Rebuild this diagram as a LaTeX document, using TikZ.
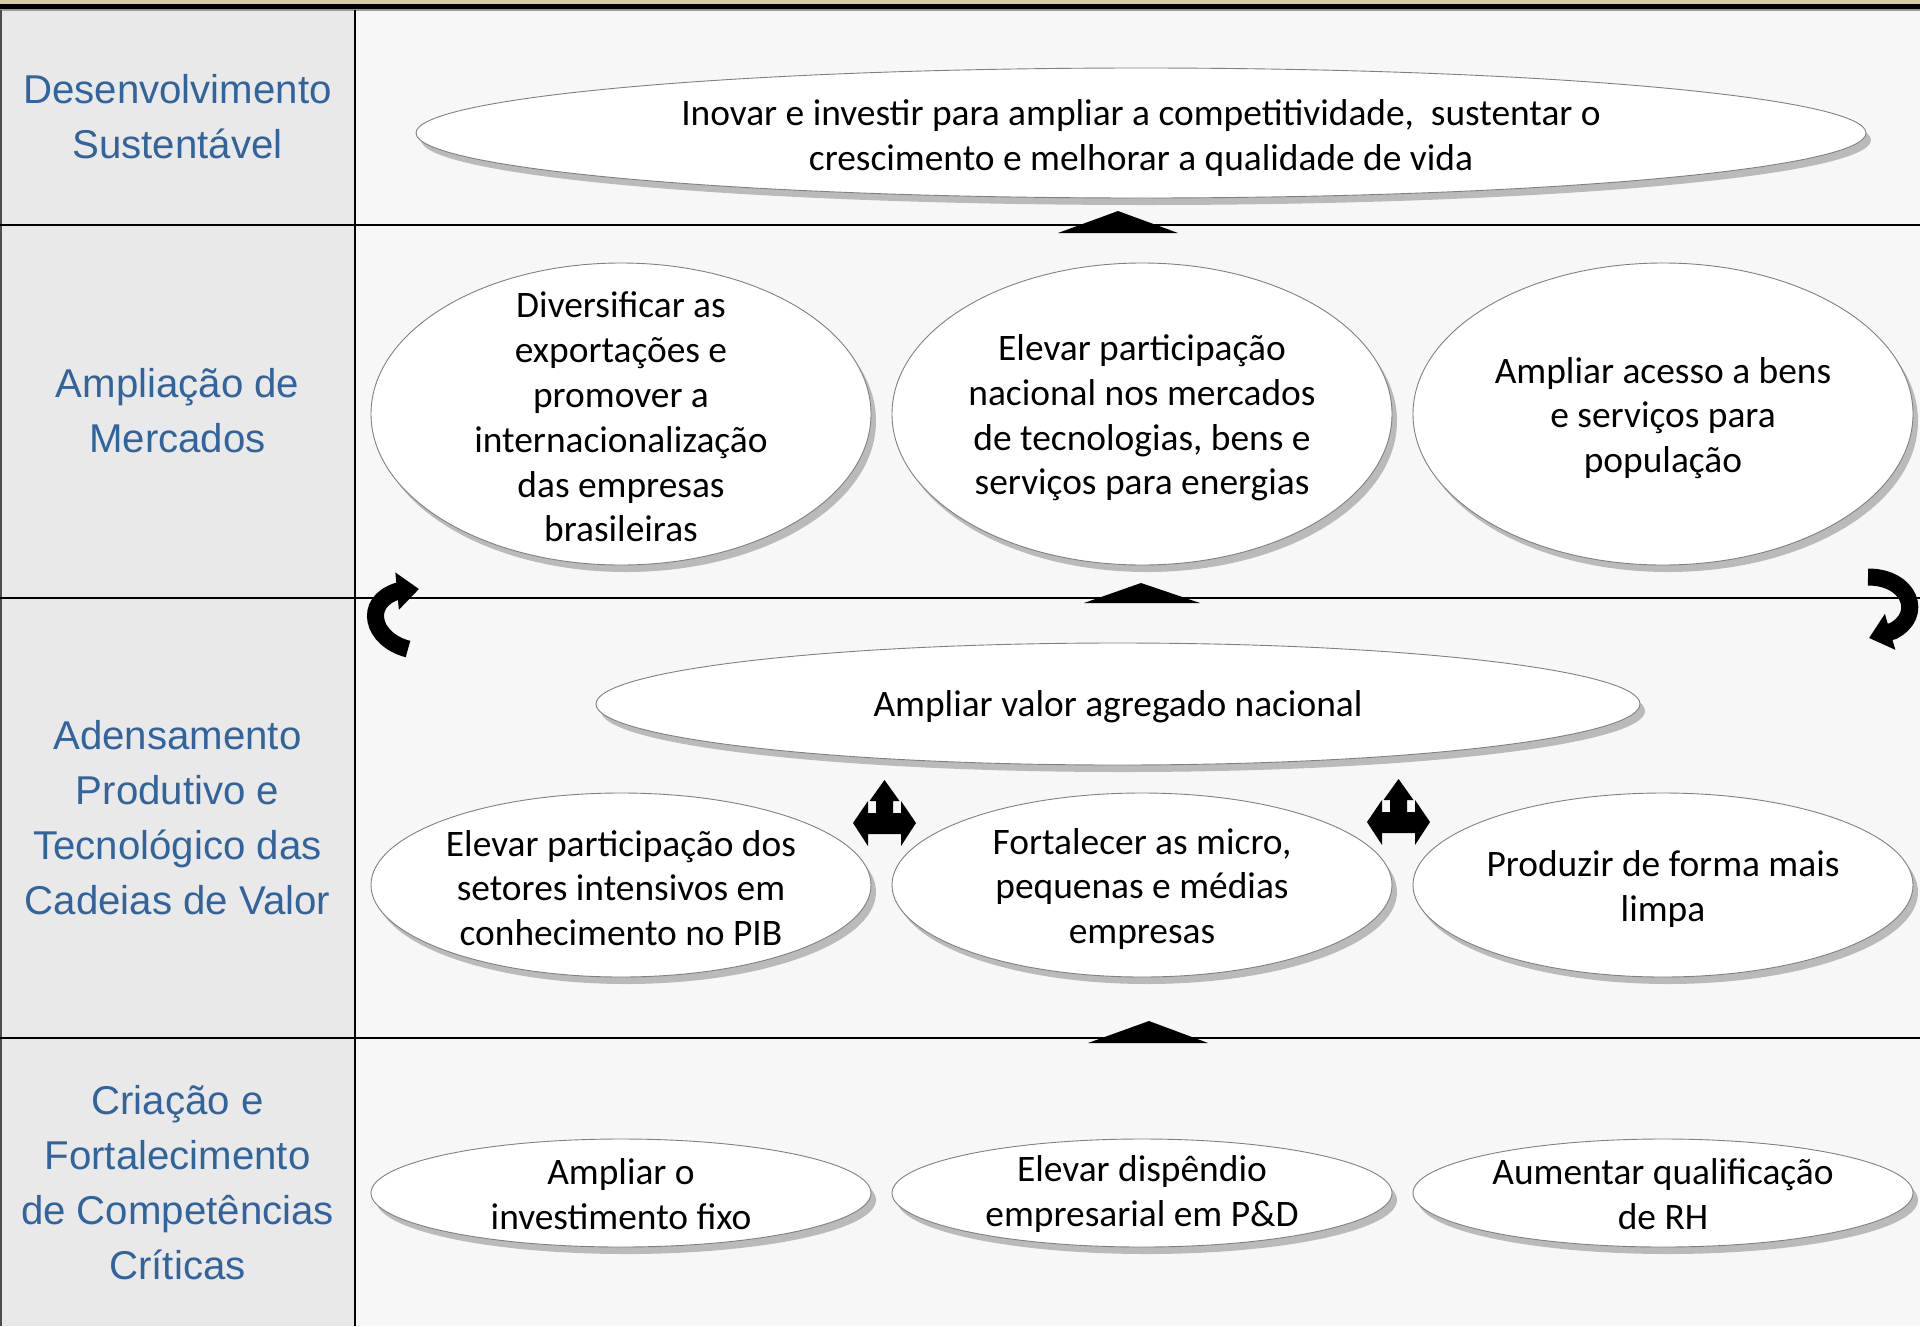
\documentclass[tikz,border=0pt]{standalone}
\usepackage{fontspec}
\setmainfont{Carlito}
\newfontfamily\labfont{Liberation Sans}
\usetikzlibrary{shapes.geometric,shadows,arrows.meta}
\definecolor{labblue}{RGB}{49,99,156}
\definecolor{leftbg}{RGB}{233,233,233}
\definecolor{mainbg}{RGB}{247,247,247}
\definecolor{stripc}{RGB}{214,204,160}
\begin{document}
\begin{tikzpicture}[x=1pt,y=-1pt,
  oval/.style={ellipse, draw=black!50, line width=0.9pt, fill=white, inner sep=0pt,
    general shadow={fill=black!27, shadow xshift=5pt, shadow yshift=-7pt}},
  ovaltext/.style={align=center, inner sep=0pt, font=\fontsize{37.4}{44.8}\selectfont},
  rowlabel/.style={align=center, inner sep=0pt, text=labblue, font=\labfont\fontsize{40.2}{55}\selectfont},
  rowrule/.style={line width=2pt, black},
  uptri/.style={fill=black},
  curvearrow/.style={line width=17pt, -{Triangle[length=22pt,width=36pt]}},
  lrarrow/.pic={\fill[black] (0,-43) -- (15,-22) -- (8.5,-22) -- (8.5,-10) -- (16.5,-10) -- (16.5,-22)
     -- (31.5,0) -- (16.5,23) -- (16.5,11) -- (-16.5,11) -- (-16.5,23) -- (-31.5,0) -- (-16.5,-22)
     -- (-16.5,-10) -- (-8.5,-10) -- (-8.5,-22) -- (-15,-22) -- cycle;}
  ]
\useasboundingbox (0,0) rectangle (1920,1326);
% backgrounds
\fill[stripc] (0,0) rectangle (1920,5);
\fill[white] (0,5) rectangle (1920,10);
\fill[leftbg] (0,10) rectangle (355,1326);
\fill[mainbg] (355,10) rectangle (1920,1326);
\draw[line width=5pt] (0,6.5) -- (1920,6.5);
\draw[black!40, line width=1.5pt] (0,10) -- (1920,10);
\draw[black!70, line width=2pt] (1,10) -- (1,1326);
% rules
\draw[rowrule] (355,10) -- (355,1326);
\draw[rowrule] (0,225) -- (1920,225);
\draw[rowrule] (0,598) -- (1920,598);
\draw[rowrule] (0,1038) -- (1920,1038);
% row labels
\node[rowlabel] (l1) at (177.5,117) {Desenvolvimento\\Sustentável};
\node[rowlabel] (l2) at (177.5,411) {Ampliação de\\Mercados};
\node[rowlabel] (l3) at (177.5,818) {Adensamento\\Produtivo e\\Tecnológico das\\Cadeias de Valor};
\node[rowlabel] (l4) at (177.5,1183) {Criação e\\Fortalecimento\\de Competências\\Críticas};
% row 1
\node[oval, minimum width=1450pt, minimum height=130pt] (top) at (1141,133) {};
\node[ovaltext] (toptxt) at (1141,138) {Inovar e investir para ampliar a competitividade,\ \ sustentar o\\crescimento e melhorar a qualidade de vida};
% row 2
\node[oval, minimum width=500pt, minimum height=302pt] (m1) at (621,414) {};
\node[oval, minimum width=500pt, minimum height=302pt] (m2) at (1142,414) {};
\node[oval, minimum width=500pt, minimum height=302pt] (m3) at (1663,414) {};
\node[ovaltext] (m1t) at (621,417) {Diversificar as\\exportações e\\promover a\\internacionalização\\das empresas\\brasileiras};
\node[ovaltext] (m2t) at (1142,418) {Elevar participação\\nacional nos mercados\\de tecnologias, bens e\\serviços para energias};
\node[ovaltext] (m3t) at (1663,418) {Ampliar acesso a bens\\e serviços para\\população};
% row 3
\node[oval, minimum width=1044pt, minimum height=122pt] (va) at (1118,704) {};
\node[ovaltext] (vat) at (1118,707) {Ampliar valor agregado nacional};
\node[oval, minimum width=500pt, minimum height=184pt] (a1) at (621,885) {};
\node[oval, minimum width=500pt, minimum height=184pt] (a2) at (1142,885) {};
\node[oval, minimum width=500pt, minimum height=184pt] (a3) at (1663,885) {};
\node[ovaltext] (a1t) at (621,888) {Elevar participação dos\\setores intensivos em\\conhecimento no PIB};
\node[ovaltext] (a2t) at (1142,889) {Fortalecer as micro,\\pequenas e médias\\empresas};
\node[ovaltext] (a3t) at (1663,889) {Produzir de forma mais\\limpa};
% row 4
\node[oval, minimum width=500pt, minimum height=108pt] (c1) at (621,1193) {};
\node[oval, minimum width=500pt, minimum height=108pt] (c2) at (1142,1193) {};
\node[oval, minimum width=500pt, minimum height=108pt] (c3) at (1663,1193) {};
\node[ovaltext] (c1t) at (621,1194) {Ampliar o\\investimento fixo};
\node[ovaltext] (c2t) at (1142,1194) {Elevar dispêndio\\empresarial em P\&D};
\node[ovaltext] (c3t) at (1663,1194) {Aumentar qualificação\\de RH};
% up triangles
\fill[uptri] (1058,233) -- (1118,211) -- (1178,233) -- cycle;
\fill[uptri] (1084,603) -- (1141,583) -- (1200,603) -- cycle;
\fill[uptri] (1088,1043) -- (1149,1021) -- (1208,1043) -- cycle;
% three-way arrows
\pic at (884.5,823) {lrarrow};
\pic at (1398.5,822) {lrarrow};
% curved arrows
\draw[curvearrow] (408,649) .. controls (372,640) and (362,602) .. (398,591) -- (419,589);
\draw[curvearrow] (1868,577) .. controls (1910,577) and (1924,615) .. (1893,631) -- (1869,638);
\end{tikzpicture}
\end{document}
